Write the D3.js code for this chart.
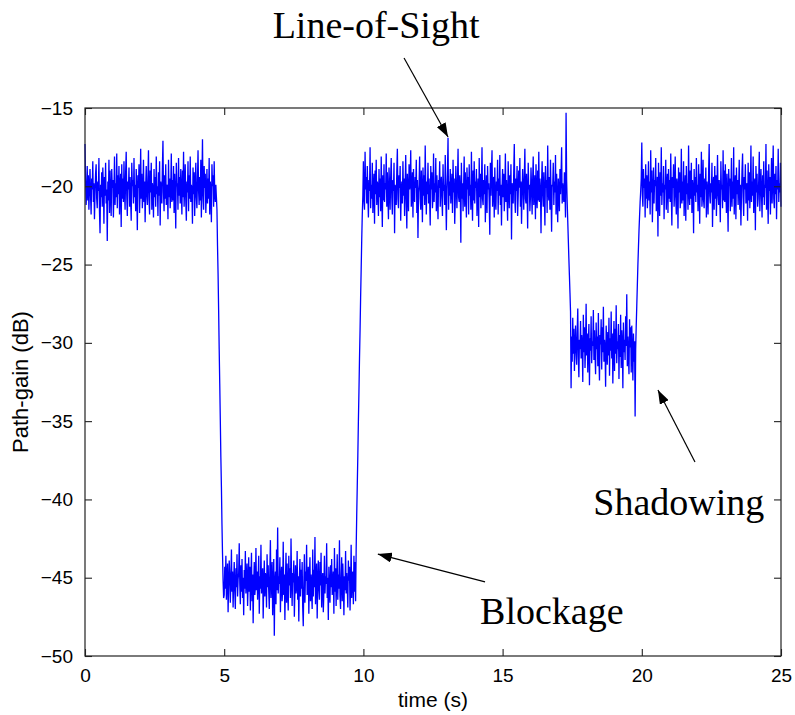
<!DOCTYPE html>
<html>
<head>
<meta charset="utf-8">
<script src="https://cdn.jsdelivr.net/npm/d3@7"></script>
<style>
  html, body { margin: 0; padding: 0; background: #fff; }
  svg { display: block; }
  .tick text { font-family: "Liberation Sans", Arial, Helvetica, sans-serif; font-size: 19px; fill: #000; }
  .axis-title { font-family: "Liberation Sans", Arial, Helvetica, sans-serif; fill: #000; }
  .note { font-family: "Liberation Serif", "Times New Roman", serif; font-size: 38px; fill: #000; }
</style>
</head>
<body>
<svg id="chart" width="795" height="715"></svg>
<script>
// Path-gain trace sampled every 20 ms, split into the measured segments.
const sampleStep = 0.02;

// Line-of-sight, 0 s onwards
const losStart = 0;
const losFirst = [
  -17.3,-19.6,-21.2,-20.4,-18.7,-20.9,-19.3,-21.5,-20.1,-18.9,
  -20.6,-21.8,-19.5,-20.2,-18.4,-21.0,-19.8,-22.1,-20.5,-19.2,
  -18.6,-20.8,-21.4,-19.7,-20.3,-18.2,-21.6,-23.0,-19.9,-20.7,
  -19.1,-21.3,-18.8,-20.0,-22.4,-19.4,-20.6,-18.5,-21.1,-20.2,
  -23.5,-19.7,-20.9,-18.3,-21.7,-19.0,-20.4,-21.9,-18.9,-20.1,
  -19.6,-22.0,-20.3,-18.1,-21.2,-19.8,-20.7,-17.9,-21.4,-19.3,
  -20.5,-18.7,-21.8,-20.0,-19.2,-22.6,-18.6,-20.8,-19.5,-21.0,
  -18.4,-20.3,-21.5,-19.1,-17.8,-20.6,-21.9,-19.7,-20.2,-18.8,
  -21.3,-19.4,-20.9,-22.2,-18.5,-20.0,-19.6,-21.1,-18.2,-20.7,
  -19.9,-21.6,-18.9,-20.4,-22.8,-19.3,-20.1,-18.6,-21.7,-20.3,
  -17.6,-20.8,-19.2,-21.4,-20.5,-18.3,-21.0,-19.7,-22.3,-20.0,
  -18.7,-20.6,-21.2,-19.5,-17.7,-20.9,-21.8,-19.0,-20.4,-18.5,
  -21.5,-19.8,-20.2,-22.0,-18.9,-20.7,-19.4,-21.3,-18.1,-20.5,
  -20.0,-21.9,-19.1,-20.6,-18.4,-22.5,-19.7,-20.3,-21.1,-18.8,
  -17.1,-20.4,-21.6,-19.3,-20.8,-18.6,-21.2,-19.9,-20.1,-22.1,
  -18.3,-20.7,-19.5,-21.4,-20.2,-17.9,-21.0,-19.6,-20.9,-18.7,
  -21.7,-19.2,-20.5,-22.7,-18.5,-20.0,-19.8,-21.5,-18.2,-20.6,
  -19.4,-21.1,-18.9,-20.3,-21.8,-19.0,-20.7,-17.8,-21.3,-20.1,
  -18.6,-20.9,-22.2,-19.7,-20.4,-18.4,-21.6,-19.3,-20.8,-18.1,
  -21.0,-19.9,-20.2,-22.4,-18.8,-20.5,-19.1,-21.9,-20.0,-18.5,
  -20.7,-21.4,-19.6,-17.7,-20.3,-21.2,-19.4,-20.9,-18.3,-22.0,
  -19.8,-17.0,-20.6,-21.5,-18.7,-20.1,-19.2,-21.7,-20.4,-18.9,
  -21.1,-19.5,-20.8,-18.2,-21.8,-19.7,-20.3,-22.3,-18.6,-20.0,
  -19.3,-21.3,-18.4,-20.5,-21.0,-19.9,-20.7
];

// Body enters the path
const blockOnsetStart = 4.74;
const blockOnset = [-21.5,-23.8,-25.6,-27.9,-30.4,-32.6,-34.9,-37.3,-39.2,-41.6,-43.5,-45.2,-46.3];

const blockageStart = 5.00;
const blockage = [
  -46.1,-44.3,-45.7,-43.6,-46.4,-45.0,-44.1,-47.2,-45.5,-43.9,
  -44.8,-46.6,-45.2,-43.2,-45.9,-44.6,-46.9,-45.3,-44.0,-45.8,
  -47.0,-44.4,-45.6,-43.5,-46.2,-45.1,-44.7,-42.8,-45.4,-46.7,
  -44.2,-45.9,-43.8,-46.3,-45.0,-47.4,-44.5,-45.7,-43.3,-46.0,
  -45.2,-44.1,-46.8,-45.5,-43.7,-45.9,-44.3,-47.1,-45.0,-43.4,
  -46.5,-44.8,-47.9,-45.3,-44.0,-46.1,-45.6,-43.1,-45.8,-44.6,
  -46.4,-45.1,-43.6,-47.3,-44.9,-45.7,-42.9,-46.0,-45.2,-44.4,
  -47.6,-45.4,-43.9,-46.2,-44.7,-45.0,-46.9,-43.5,-45.6,-44.2,
  -45.9,-47.0,-44.5,-42.6,-46.3,-45.1,-44.0,-47.4,-45.5,-43.8,
  -48.7,-45.3,-44.6,-46.7,-43.2,-45.8,-41.8,-46.0,-44.9,-45.4,
  -43.7,-47.2,-45.0,-44.3,-46.5,-45.7,-42.7,-46.1,-44.8,-47.7,
  -45.2,-43.4,-46.6,-44.1,-45.9,-47.1,-43.6,-45.5,-44.4,-46.3,
  -42.5,-45.0,-46.8,-44.7,-45.3,-43.9,-47.5,-45.8,-44.2,-46.0,
  -45.6,-43.3,-46.4,-44.9,-47.8,-45.1,-43.8,-46.2,-44.5,-45.7,
  -44.0,-46.9,-48.1,-45.4,-43.5,-46.6,-44.6,-45.2,-42.9,-46.1,
  -45.8,-44.3,-47.3,-45.0,-43.7,-46.5,-44.8,-45.9,-47.0,-43.2,
  -46.2,-44.5,-45.6,-42.4,-46.7,-45.1,-44.1,-47.6,-45.3,-43.9,
  -45.7,-46.4,-44.0,-45.5,-43.4,-46.9,-45.2,-44.7,-47.2,-45.9,
  -43.6,-46.0,-44.9,-45.4,-42.8,-46.3,-45.0,-47.7,-44.3,-45.8,
  -46.6,-44.2,-45.6,-43.8,-46.1,-45.3,-44.6,-47.3,-43.1,-45.9,
  -44.4,-46.8,-45.1,-43.5,-46.4,-44.8,-45.7,-42.6,-46.2,-47.0,
  -45.0,-43.7,-46.5,-44.1,-45.4,-47.4,-44.9,-45.8,-43.3,-46.0,
  -44.7,-45.5,-46.9,-43.9,-45.2,-44.3,-47.1,-45.6,-42.9,-46.3,
  -45.1,-44.6,-46.7,-43.6,-45.9,-44.0,-46.5
];

// Path clears again
const blockReleaseStart = 9.74;
const blockRelease = [-43.2,-41.0,-39.1,-37.2,-35.0,-33.1,-31.0,-29.2,-27.1,-25.3,-23.4,-21.8,-20.6];

const losSecondStart = 10.00;
const losSecond = [
  -18.4,-20.9,-21.5,-17.8,-20.2,-19.4,-21.1,-18.7,-20.6,-22.0,
  -19.6,-20.3,-17.5,-21.4,-19.9,-20.8,-18.5,-21.7,-20.1,-19.2,
  -22.4,-19.0,-20.5,-18.3,-21.2,-19.7,-20.0,-21.9,-18.9,-20.7,
  -19.5,-21.6,-18.1,-20.4,-22.6,-19.3,-20.9,-18.6,-21.0,-19.8,
  -20.2,-17.9,-21.3,-19.1,-20.6,-22.1,-18.8,-20.0,-21.5,-19.4,
  -18.2,-20.7,-21.8,-19.6,-20.3,-18.5,-23.0,-19.9,-20.5,-21.2,
  -19.0,-17.6,-20.8,-21.4,-19.3,-20.1,-18.7,-22.2,-20.4,-19.7,
  -21.1,-18.4,-20.6,-19.5,-21.9,-20.0,-18.0,-20.9,-22.7,-19.2,
  -20.3,-21.6,-18.6,-20.2,-19.8,-17.7,-21.3,-20.5,-19.1,-22.0,
  -18.9,-20.7,-21.0,-19.4,-20.1,-18.3,-21.7,-19.6,-23.3,-20.4,
  -19.9,-18.1,-20.8,-21.5,-19.0,-20.3,-22.3,-18.8,-20.6,-19.3,
  -21.2,-17.4,-20.0,-21.8,-19.7,-20.5,-18.5,-21.1,-19.5,-20.9,
  -22.5,-18.7,-20.2,-19.1,-21.4,-20.6,-17.9,-21.0,-19.8,-20.4,
  -18.2,-21.6,-19.3,-20.7,-22.1,-19.6,-20.1,-18.4,-21.3,-20.0,
  -19.4,-20.8,-21.9,-18.6,-20.3,-19.9,-21.2,-18.0,-20.5,-22.8,
  -20.2,-19.0,-16.9,-21.5,-19.7,-20.6,-18.9,-21.1,-20.0,-19.2,
  -21.7,-18.3,-20.4,-19.5,-22.4,-20.9,-18.7,-20.1,-21.4,-19.6,
  -17.6,-20.7,-21.0,-19.3,-20.3,-23.6,-18.5,-20.8,-19.8,-21.6,
  -20.0,-18.1,-21.3,-19.1,-20.5,-22.0,-18.8,-20.2,-19.4,-21.8,
  -18.6,-20.6,-19.9,-21.5,-17.8,-20.4,-22.2,-19.0,-20.9,-18.4,
  -21.1,-19.7,-20.1,-18.9,-21.9,-20.3,-19.5,-22.6,-18.2,-20.7,
  -19.2,-21.4,-20.0,-17.5,-20.8,-21.2,-19.6,-20.5,-18.6,-22.3,
  -20.4,-19.3,-21.7,-18.7,-20.2,-19.8,-21.0,-23.1,-18.5,-20.6,
  -19.0,-17.7,-21.3,-20.0,-19.4,-22.0,-18.8,-20.9,-21.5,-19.7,
  -20.3,-18.3,-21.8,-19.5,-20.6,-18.0,-21.2,-19.9,-22.5,-20.1,
  -18.9,-20.7,-19.2,-21.6,-20.4,-17.9,-21.0,-19.6,-20.8,-22.2,
  -18.4,-20.0,-21.4,-19.3,-20.5,-18.6,-23.4,-19.8,-20.2,-21.1,
  -19.1,-17.3,-20.9,-21.7,-19.5,-20.3,-18.7,-21.9,-20.6,-19.0,
  -20.1,-18.2,-21.3,-19.7,-22.4,-20.5,-18.9,-20.0,-21.5,-19.4,
  -17.6,-20.8,-21.1,-19.2,-20.4,-22.7,-18.5,-20.2,-19.9,-21.6,
  -20.7,-18.8,-20.0,-21.8,-19.6,-18.1,-21.2,-20.3,-19.3,-22.1,
  -18.6,-20.6,-21.4,-19.0,-20.9,-17.8,-21.0,-19.5,-20.2,-23.0,
  -19.8,-18.4,-20.5,-21.3,-19.1,-20.7,-22.5,-18.7,-20.1,-19.6,
  -21.7,-17.4,-20.3,-20.9,-19.4,-21.5,-18.3,-20.6,-22.9,-19.9,
  -20.0,-18.5,-21.2,-19.7,-20.4,-18.0,-21.8,-19.2,-20.8,-22.3,
  -19.5,-20.2,-21.6,-18.9,-20.5,-19.3,-17.5,-21.1,-19.8,-20.6,
  -21.0,-19.1,-20.3,-22.0,-15.3
];

// Partial obstruction
const shadowOnsetStart = 17.30;
const shadowOnset = [-19.6,-21.0,-22.2,-23.4,-24.6,-25.7,-26.8,-28.0];

const shadowingStart = 17.46;
const shadowing = [
  -32.9,-29.6,-31.2,-28.4,-30.7,-29.1,-31.8,-30.2,-28.9,-30.5,
  -31.4,-29.3,-27.8,-30.9,-32.2,-29.8,-30.4,-28.6,-31.0,-29.5,
  -30.1,-32.5,-28.2,-30.6,-29.0,-31.6,-30.3,-27.5,-30.8,-29.4,
  -31.9,-30.0,-28.8,-32.7,-29.7,-30.5,-28.3,-31.3,-29.9,-30.2,
  -27.9,-31.1,-29.2,-30.7,-32.0,-28.7,-30.4,-29.6,-31.5,-28.1,
  -30.9,-32.4,-29.5,-30.1,-28.5,-31.7,-29.0,-30.6,-27.7,-31.2,
  -29.8,-30.3,-32.8,-28.9,-30.0,-31.4,-29.3,-30.8,-28.4,-32.1,
  -29.7,-30.5,-28.0,-31.0,-29.4,-32.6,-30.2,-28.6,-31.8,-29.1,
  -30.7,-27.6,-31.3,-29.9,-30.4,-28.8,-32.3,-29.5,-30.9,-28.2,
  -31.6,-29.2,-30.0,-32.9,-28.7,-30.6,-29.8,-31.1,-28.3,-30.2,
  -26.9,-31.5,-29.6,-30.8,-32.0,-28.5,-30.3,-29.0,-31.9,-28.9,
  -30.5,-32.4,-29.4,-31.2,-29.9,-34.7
];

const shadowReleaseStart = 19.78;
const shadowRelease = [-30.4,-28.9,-27.6,-26.3,-25.0,-23.9,-22.8,-21.9,-21.0,-20.3,-19.5];

const losThirdStart = 20.00;
const losThird = [
  -17.2,-20.6,-21.3,-18.9,-20.1,-19.5,-22.0,-18.6,-20.8,-19.3,
  -21.4,-20.2,-18.4,-20.9,-19.7,-21.8,-17.7,-20.4,-19.0,-22.3,
  -20.5,-18.8,-21.1,-19.6,-20.0,-18.2,-21.6,-20.7,-19.4,-23.2,
  -18.5,-20.3,-21.9,-19.1,-20.6,-17.5,-21.2,-19.8,-20.4,-18.7,
  -22.1,-19.9,-20.2,-18.3,-21.5,-20.0,-19.2,-21.7,-18.9,-20.8,
  -19.6,-21.0,-17.9,-20.5,-22.5,-19.4,-20.1,-18.6,-21.3,-20.3,
  -18.1,-20.7,-21.8,-19.5,-20.0,-22.7,-18.8,-20.4,-19.1,-21.4,
  -20.6,-17.6,-21.1,-19.7,-20.9,-18.4,-21.9,-20.2,-19.3,-22.2,
  -18.7,-20.5,-19.8,-21.5,-17.4,-20.3,-21.2,-19.0,-20.8,-18.5,
  -21.7,-19.6,-20.1,-23.0,-18.9,-20.6,-19.4,-21.0,-18.2,-20.4,
  -19.9,-21.6,-18.6,-20.0,-22.4,-19.2,-20.7,-17.8,-21.3,-20.5,
  -18.3,-20.9,-21.4,-19.5,-20.2,-18.8,-22.0,-19.7,-20.3,-21.8,
  -19.1,-17.3,-20.6,-21.1,-19.8,-20.4,-18.5,-22.6,-20.0,-19.4,
  -21.5,-18.7,-20.8,-19.3,-21.9,-20.1,-18.0,-20.5,-21.2,-19.6,
  -20.7,-22.3,-18.4,-20.2,-19.9,-21.4,-17.7,-20.9,-19.0,-21.0,
  -18.6,-20.3,-21.7,-19.2,-20.6,-22.9,-18.9,-20.0,-19.5,-21.6,
  -20.4,-18.2,-21.3,-19.7,-20.8,-17.5,-21.8,-20.1,-19.3,-22.1,
  -18.8,-20.5,-19.6,-21.2,-20.0,-18.3,-21.5,-19.9,-22.5,-20.6,
  -19.0,-17.9,-20.7,-21.9,-19.4,-20.2,-18.6,-21.1,-20.4,-19.8,
  -22.2,-18.5,-20.9,-19.1,-21.4,-20.3,-17.4,-21.0,-19.7,-20.6,
  -18.1,-21.7,-20.0,-19.5,-22.8,-18.7,-20.4,-19.2,-21.3,-20.8,
  -19.6,-17.8,-21.6,-20.2,-18.9,-20.5,-22.0,-19.3,-20.7,-18.4,
  -21.2,-19.9,-20.1,-17.3,-21.5,-19.0,-20.6,-22.4,-18.6,-20.3,
  -19.4,-21.8,-20.0,-18.2,-21.1,-19.7,-17.4,-20.8,-21.4,-19.2,
  -20.5,-18.7,-22.1,-19.6,-20.2,-17.6,-21.0,-19.8,-20.4,-18.5,
  -21.3
];

const xTicks = [0, 5, 10, 15, 20, 25];
const yTicks = [-50, -45, -40, -35, -30, -25, -20, -15];
const xLabel = "time (s)";
const yLabel = "Path-gain (dB)";

const segments = [
  [losStart, losFirst],
  [blockOnsetStart, blockOnset],
  [blockageStart, blockage],
  [blockReleaseStart, blockRelease],
  [losSecondStart, losSecond],
  [shadowOnsetStart, shadowOnset],
  [shadowingStart, shadowing],
  [shadowReleaseStart, shadowRelease],
  [losThirdStart, losThird]
];

const samples = [];
segments.forEach(([t0, vals]) => {
  vals.forEach((v, i) => samples.push({ t: t0 + i * sampleStep, v }));
});

// ---- layout ----
const svg = d3.select("#chart");
const plotLeft = 85, plotRight = 781, plotTop = 108, plotBottom = 656;

const x = d3.scaleLinear().domain([0, 25]).range([plotLeft, plotRight]);
const y = d3.scaleLinear().domain([-50, -15]).range([plotBottom, plotTop]);

// trace
svg.append("path")
  .datum(samples)
  .attr("fill", "none")
  .attr("stroke", "#0000ff")
  .attr("stroke-width", 1.3)
  .attr("stroke-linejoin", "miter")
  .attr("d", d3.line().x(d => x(d.t)).y(d => y(d.v)));

// axes with inward ticks on all four sides
const tickLen = 7;
function styleAxis(g) {
  g.select(".domain").remove();
  g.selectAll(".tick line").attr("stroke", "#222").attr("stroke-width", 1.1);
}
svg.append("g").attr("transform", `translate(0,${plotBottom})`)
  .call(d3.axisBottom(x).tickValues(xTicks).tickFormat(d3.format("d")).tickSize(-tickLen).tickPadding(13))
  .call(styleAxis);
svg.append("g").attr("transform", `translate(0,${plotTop})`)
  .call(d3.axisTop(x).tickValues(xTicks).tickFormat("").tickSize(-tickLen))
  .call(styleAxis);
svg.append("g").attr("transform", `translate(${plotLeft},0)`)
  .call(d3.axisLeft(y).tickValues(yTicks).tickFormat(d3.format("d")).tickSize(-tickLen).tickPadding(12))
  .call(styleAxis);
svg.append("g").attr("transform", `translate(${plotRight},0)`)
  .call(d3.axisRight(y).tickValues(yTicks).tickFormat("").tickSize(-tickLen))
  .call(styleAxis);

svg.selectAll("g").attr("font-family", null).attr("font-size", null);
svg.selectAll(".tick text").attr("fill", null);

// frame
svg.append("rect")
  .attr("x", plotLeft).attr("y", plotTop)
  .attr("width", plotRight - plotLeft).attr("height", plotBottom - plotTop)
  .attr("fill", "none").attr("stroke", "#222").attr("stroke-width", 1.2);

// axis titles
svg.append("text").attr("class", "axis-title")
  .attr("x", (plotLeft + plotRight) / 2).attr("y", 707)
  .attr("font-size", 21)
  .attr("text-anchor", "middle").text(xLabel);
svg.append("text").attr("class", "axis-title")
  .attr("transform", `translate(28,${(plotTop + plotBottom) / 2}) rotate(-90)`)
  .attr("font-size", 22)
  .attr("text-anchor", "middle").text(yLabel);

// annotations (text anchor, arrow tail, arrow tip in data units)
const defs = svg.append("defs");
defs.append("marker")
  .attr("id", "head")
  .attr("markerUnits", "userSpaceOnUse")
  .attr("viewBox", "0 0 14 10")
  .attr("refX", 14).attr("refY", 5)
  .attr("markerWidth", 14).attr("markerHeight", 10)
  .attr("orient", "auto")
  .append("path").attr("d", "M0,0 L14,5 L0,10 Z").attr("fill", "#000");

const notes = [
  { label: "Line-of-Sight", at: [6.74, -10.53], from: [11.46, -11.81], to: [13.04, -16.85] },
  { label: "Shadowing",     at: [18.26, -40.99], from: [21.91, -37.61], to: [20.58, -33.01] },
  { label: "Blockage",      at: [14.19, -47.96], from: [14.37, -45.27], to: [10.52, -43.49] }
];
notes.forEach(n => {
  svg.append("text").attr("class", "note")
    .attr("x", x(n.at[0])).attr("y", y(n.at[1])).text(n.label);
  svg.append("line")
    .attr("x1", x(n.from[0])).attr("y1", y(n.from[1]))
    .attr("x2", x(n.to[0])).attr("y2", y(n.to[1]))
    .attr("stroke", "#000").attr("stroke-width", 1.2)
    .attr("marker-end", "url(#head)");
});
</script>
</body>
</html>
